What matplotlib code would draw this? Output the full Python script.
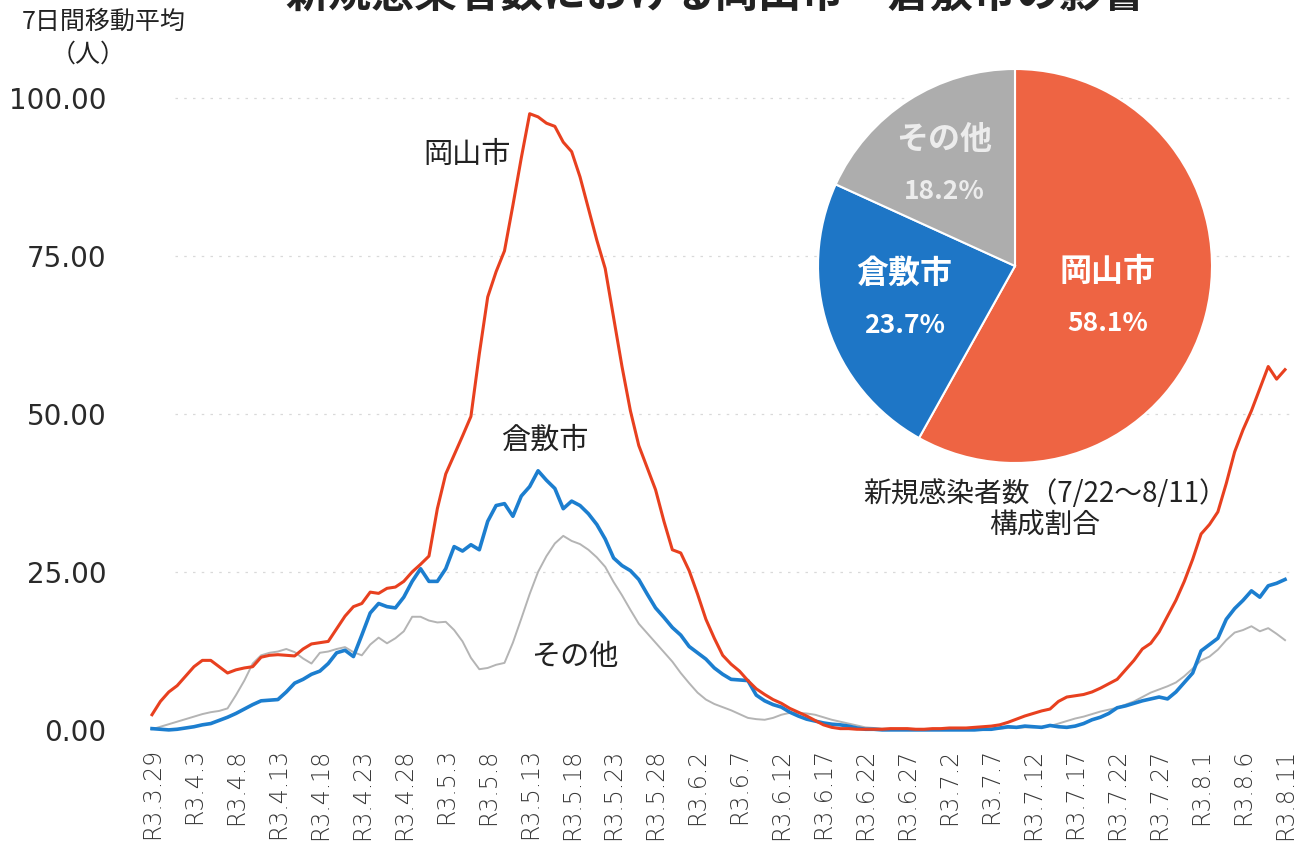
import matplotlib
matplotlib.use("Agg")
import matplotlib.pyplot as plt
import numpy as np

plt.rcParams['font.family'] = ['Noto Sans CJK JP', 'DejaVu Sans']

# 7日間移動平均（人）, daily from R3.3.29 to R3.8.11
okayama = [
    2.4, 4.5, 6.0, 7.0, 8.5, 10.0, 11.0, 11.0, 10.0, 9.0,
    9.5, 9.8, 10.0, 11.5, 11.8, 11.9, 11.8, 11.7, 12.8, 13.6,
    13.8, 14.0, 16.0, 18.0, 19.5, 20.0, 21.8, 21.6, 22.4, 22.6,
    23.5, 25.0, 26.2, 27.5, 35.0, 40.5, 43.5, 46.5, 49.6, 59.5,
    68.5, 72.5, 75.8, 83.0, 90.5, 97.5, 97.0, 96.0, 95.5, 93.0,
    91.5, 87.5, 82.5, 77.5, 73.0, 65.3, 57.5, 50.5, 45.0, 41.5,
    38.0, 33.0, 28.5, 28.0, 25.2, 21.5, 17.5, 14.5, 11.8, 10.4,
    9.3, 7.8, 6.5, 5.6, 4.8, 4.2, 3.4, 2.8, 2.2, 1.5,
    0.8, 0.4, 0.2, 0.2, 0.1, 0.1, 0.1, 0.1, 0.2, 0.2,
    0.2, 0.1, 0.1, 0.2, 0.2, 0.3, 0.3, 0.3, 0.4, 0.5,
    0.6, 0.8, 1.2, 1.7, 2.2, 2.6, 3.0, 3.3, 4.5, 5.2,
    5.4, 5.6, 6.0, 6.6, 7.3, 8.0, 9.5, 11.0, 12.8, 13.7,
    15.5, 18.0, 20.5, 23.5, 27.0, 31.0, 32.5, 34.5, 39.0, 44.0,
    47.5, 50.5, 54.0, 57.5, 55.5, 57.0,
]
kurashiki = [
    0.2, 0.1, 0.0, 0.1, 0.3, 0.5, 0.8, 1.0, 1.5, 2.0,
    2.6, 3.3, 4.0, 4.6, 4.7, 4.8, 6.0, 7.4, 8.0, 8.8,
    9.3, 10.5, 12.2, 12.6, 11.6, 15.0, 18.5, 20.0, 19.5, 19.3,
    21.0, 23.5, 25.5, 23.5, 23.5, 25.5, 29.0, 28.3, 29.3, 28.5,
    33.0, 35.5, 35.8, 33.8, 37.0, 38.5, 41.0, 39.5, 38.2, 35.0,
    36.2, 35.5, 34.2, 32.5, 30.2, 27.2, 26.0, 25.2, 23.8, 21.5,
    19.3, 17.8, 16.2, 15.0, 13.2, 12.2, 11.2, 9.8, 8.8, 8.0,
    7.9, 7.8, 5.5, 4.6, 4.0, 3.6, 2.8, 2.2, 1.7, 1.4,
    1.1, 0.9, 0.8, 0.6, 0.3, 0.1, 0.1, 0.0, 0.0, 0.0,
    0.0, 0.0, 0.0, 0.0, 0.0, 0.0, 0.0, 0.0, 0.0, 0.1,
    0.1, 0.3, 0.5, 0.4, 0.6, 0.5, 0.4, 0.7, 0.5, 0.4,
    0.6, 1.0, 1.6, 2.0, 2.6, 3.5, 3.8, 4.2, 4.6, 4.9,
    5.2, 4.9, 6.0, 7.5, 9.0, 12.5, 13.5, 14.5, 17.5, 19.2,
    20.5, 22.0, 21.0, 22.8, 23.2, 23.8,
]
others = [
    0.1, 0.5, 0.9, 1.3, 1.7, 2.1, 2.5, 2.8, 3.0, 3.4,
    5.5, 7.8, 10.5, 11.8, 12.2, 12.4, 12.8, 12.3, 11.3, 10.5,
    12.2, 12.4, 12.8, 13.1, 12.3, 11.8, 13.5, 14.6, 13.7, 14.5,
    15.6, 17.9, 17.9, 17.3, 17.0, 17.1, 15.8, 14.0, 11.4, 9.6,
    9.8, 10.3, 10.6, 13.8, 17.6, 21.5, 25.0, 27.5, 29.5, 30.7,
    29.9, 29.4, 28.5, 27.3, 25.8, 23.4, 21.3, 19.0, 16.8, 15.3,
    13.8, 12.3, 10.8, 9.0, 7.4, 5.9, 4.8, 4.1, 3.6, 3.1,
    2.5, 1.9, 1.7, 1.6, 1.9, 2.4, 2.7, 2.7, 2.6, 2.4,
    2.0, 1.6, 1.3, 1.0, 0.7, 0.4, 0.3, 0.2, 0.2, 0.1,
    0.1, 0.1, 0.1, 0.1, 0.1, 0.1, 0.1, 0.1, 0.1, 0.2,
    0.2, 0.2, 0.3, 0.3, 0.4, 0.4, 0.5, 0.6, 1.0, 1.4,
    1.8, 2.1, 2.5, 2.9, 3.2, 3.5, 4.0, 4.5, 5.2, 5.9,
    6.4, 6.9, 7.5, 8.5, 9.7, 11.0, 11.6, 12.7, 14.2, 15.4,
    15.8, 16.4, 15.6, 16.1, 15.2, 14.2,
]
tick_labels = [
    'R3.3.29', 'R3.4.3', 'R3.4.8', 'R3.4.13', 'R3.4.18', 'R3.4.23', 'R3.4.28',
    'R3.5.3', 'R3.5.8', 'R3.5.13', 'R3.5.18', 'R3.5.23', 'R3.5.28', 'R3.6.2',
    'R3.6.7', 'R3.6.12', 'R3.6.17', 'R3.6.22', 'R3.6.27', 'R3.7.2', 'R3.7.7',
    'R3.7.12', 'R3.7.17', 'R3.7.22', 'R3.7.27', 'R3.8.1', 'R3.8.6', 'R3.8.11',
]
y_ticks = [0, 25, 50, 75, 100]

# pie: 新規感染者数（7/22～8/11）構成割合
pie_labels = ['岡山市', '倉敷市', 'その他']
pie_shares = [58.1, 23.7, 18.2]

red_line = '#E8401F'
blue_line = '#1C7ECF'
gray_line = '#B4B4B4'
pie_colors = ['#EE6443', '#1E76C6', '#ADADAD']

W, H = 1309, 849
fig = plt.figure(figsize=(W / 100, H / 100), dpi=100)
fig.patch.set_facecolor('white')


def px_box(left, top, right, bottom):
    return [left / W, 1 - bottom / H, (right - left) / W, (bottom - top) / H]


ax = fig.add_axes(px_box(140, 60, 1295, 740))
days = np.arange(len(okayama))

ax.plot(days, others, color=gray_line, lw=1.4, zorder=3)
ax.plot(days, kurashiki, color=blue_line, lw=2.6, zorder=4)
ax.plot(days, okayama, color=red_line, lw=2.2, zorder=5)

ax.set_xlim(-1.43, 136.19)
ax.set_ylim(-1.6, 106)
for s in ax.spines.values():
    s.set_visible(False)

ax.set_yticks(y_ticks)
ax.set_yticklabels([f'{v:.2f}' for v in y_ticks], fontsize=20, color='#2a2a2a',
                   family='DejaVu Sans')
ax.set_xticks(np.arange(0, len(okayama), 5))
ax.set_xticklabels(tick_labels, rotation=90, fontsize=17, color='#3a3a3a',
                   family='DejaVu Sans', fontweight='light')
ax.tick_params(axis='y', length=0, pad=24)
ax.tick_params(axis='x', length=0, pad=6)
for v in y_ticks[1:]:
    ax.axhline(v, xmin=0.03, xmax=0.995, color='#d9d9d9', lw=0.9,
               ls=(0, (2, 5)), zorder=1)

ax.text(37.5, 91, '岡山市', fontsize=21, ha='center', va='center', color='#222222')
ax.text(46.8, 45.8, '倉敷市', fontsize=21, ha='center', va='center', color='#222222')
ax.text(50.4, 11.5, 'その他', fontsize=21, ha='center', va='center', color='#222222')

fig.text(104 / W, 1 - 22 / H, '7日間移動平均', fontsize=18, ha='center', va='center',
         color='#222222')
fig.text(88 / W, 1 - 55 / H, '（人）', fontsize=18, ha='center', va='center',
         color='#222222')
fig.text(715 / W, 1 + 6 / H, '新規感染者数における岡山市・倉敷市の影響',
         fontsize=31, fontweight='bold', ha='center', va='center', color='#222222')

# pie inset
pax = fig.add_axes(px_box(1015 - 197, 266 - 197, 1015 + 197, 266 + 197))
pax.pie(pie_shares, colors=pie_colors, startangle=90, counterclock=False,
        wedgeprops=dict(edgecolor='white', linewidth=1.5))
pax.set_xlim(-1, 1)
pax.set_ylim(-1, 1)
pax.set_aspect('equal')
pax.patch.set_alpha(0)

label_pos = [(0.47, -0.16), (-0.56, -0.17), (-0.36, 0.51)]
label_cols = ['white', 'white', '#ececec']
for (lx, ly), name, share, col in zip(label_pos, pie_labels, pie_shares, label_cols):
    pax.text(lx, ly + 0.13, name, fontsize=23, fontweight='bold', color=col,
             ha='center', va='center')
    pax.text(lx, ly - 0.13, f'{share:.1f}%', fontsize=19, fontweight='bold',
             color=col, ha='center', va='center')

fig.text(1045 / W, 1 - 494 / H, '新規感染者数（7/22～8/11）', fontsize=20,
         ha='center', va='center', color='#222222')
fig.text(1045 / W, 1 - 526 / H, '構成割合', fontsize=20, ha='center', va='center',
         color='#222222')

fig.savefig('out.png', dpi=100)
